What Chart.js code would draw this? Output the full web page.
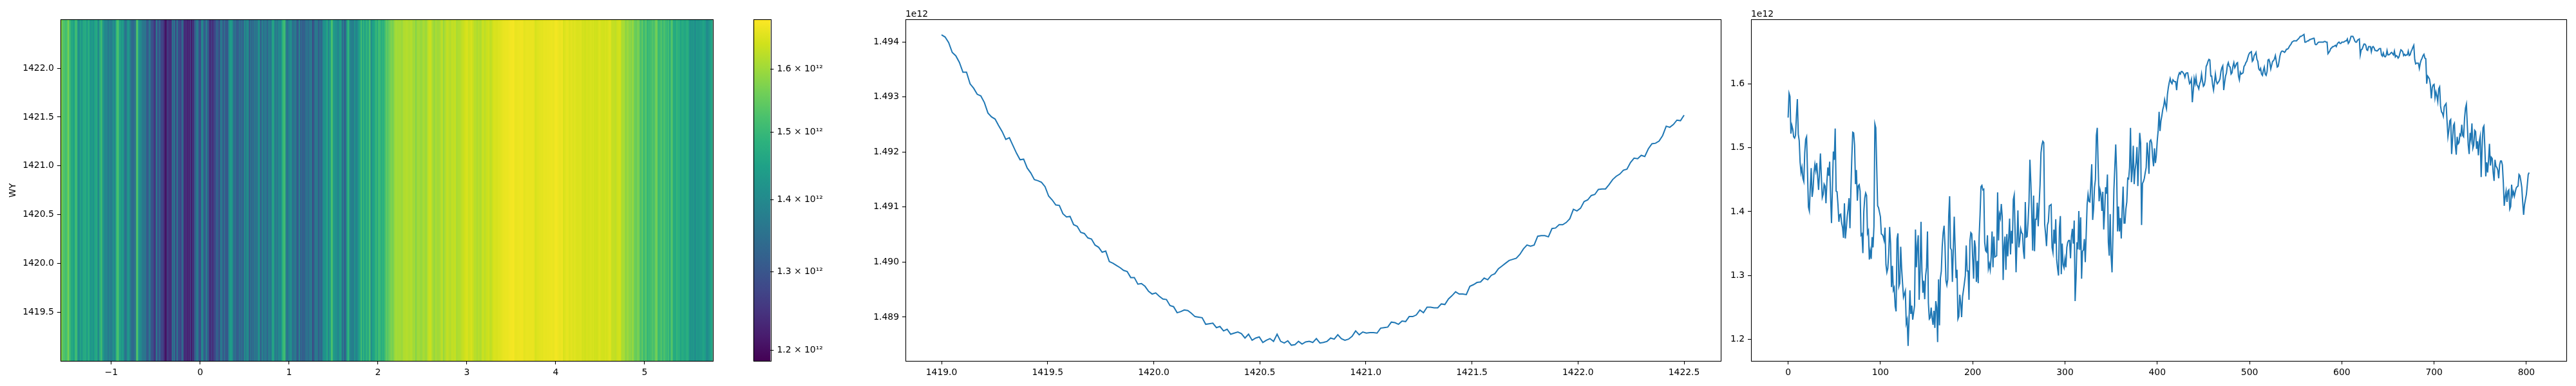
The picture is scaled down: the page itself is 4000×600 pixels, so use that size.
<!DOCTYPE html>
<html>
<head>
<meta charset="utf-8">
<title>WY profile</title>
<script src="https://cdn.jsdelivr.net/npm/chart.js@4/dist/chart.umd.min.js"></script>
<style>
  html, body { margin: 0; background: #fff; }
  #page { position: relative; width: 4000px; height: 600px; overflow: hidden; }
  canvas { position: absolute; top: 0; }
</style>
</head>
<body>
<div id="page">
  <canvas id="heatmap" style="left:0" width="1130" height="600"></canvas>
  <canvas id="colorbar" style="left:1150px" width="180" height="600"></canvas>
  <canvas id="ridge" style="left:1330px" width="1350" height="600"></canvas>
  <canvas id="profile" style="left:2680px" width="1320" height="600"></canvas>
</div>
<script>
// Values are in units of 1e12
const profile = [
  1.547,1.585,1.580,1.522,1.535,1.529,1.517,1.515,1.519,1.550,
  1.576,1.521,1.511,1.477,1.461,1.469,1.452,1.447,1.492,1.513,
  1.517,1.461,1.407,1.401,1.438,1.468,1.423,1.434,1.461,1.474,
  1.464,1.476,1.454,1.434,1.461,1.491,1.454,1.422,1.427,1.443,
  1.440,1.413,1.446,1.469,1.456,1.478,1.423,1.382,1.438,1.494,
  1.481,1.530,1.432,1.431,1.411,1.384,1.395,1.396,1.382,1.375,
  1.359,1.413,1.358,1.373,1.392,1.404,1.421,1.374,1.434,1.484,
  1.524,1.523,1.504,1.443,1.465,1.417,1.440,1.442,1.432,1.363,
  1.365,1.335,1.400,1.421,1.429,1.425,1.366,1.370,1.325,1.338,
  1.326,1.360,1.344,1.377,1.537,1.531,1.469,1.409,1.406,1.399,
  1.392,1.365,1.364,1.361,1.355,1.375,1.317,1.305,1.311,1.334,
  1.376,1.350,1.282,1.315,1.277,1.281,1.252,1.244,1.357,1.366,
  1.283,1.288,1.345,1.311,1.288,1.266,1.271,1.276,1.225,1.231,
  1.190,1.230,1.277,1.240,1.253,1.231,1.242,1.253,1.372,1.313,
  1.346,1.363,1.262,1.307,1.384,1.307,1.273,1.292,1.263,1.300,
  1.313,1.369,1.257,1.232,1.234,1.250,1.234,1.223,1.245,1.218,
  1.260,1.250,1.196,1.294,1.222,1.296,1.307,1.346,1.367,1.378,
  1.346,1.292,1.285,1.294,1.392,1.424,1.343,1.340,1.290,1.342,
  1.392,1.342,1.296,1.309,1.232,1.236,1.270,1.257,1.235,1.267,
  1.277,1.288,1.300,1.347,1.307,1.307,1.262,1.354,1.367,1.365,
  1.327,1.295,1.355,1.344,1.290,1.323,1.288,1.361,1.396,1.439,
  1.441,1.434,1.435,1.352,1.339,1.337,1.363,1.311,1.318,1.309,
  1.330,1.369,1.313,1.361,1.329,1.330,1.331,1.430,1.355,1.396,
  1.390,1.412,1.392,1.293,1.346,1.361,1.309,1.365,1.330,1.357,
  1.389,1.333,1.370,1.350,1.419,1.426,1.365,1.305,1.354,1.402,
  1.344,1.355,1.373,1.367,1.365,1.338,1.326,1.415,1.360,1.361,
  1.384,1.415,1.481,1.446,1.396,1.339,1.425,1.338,1.388,1.388,
  1.414,1.377,1.411,1.442,1.492,1.504,1.510,1.508,1.380,1.365,
  1.346,1.379,1.384,1.409,1.410,1.411,1.344,1.336,1.372,1.350,
  1.388,1.325,1.311,1.300,1.375,1.393,1.302,1.350,1.317,1.312,
  1.326,1.313,1.344,1.352,1.355,1.355,1.327,1.361,1.373,1.350,
  1.386,1.260,1.296,1.352,1.341,1.401,1.340,1.391,1.295,1.338,
  1.340,1.357,1.321,1.365,1.411,1.427,1.416,1.415,1.444,1.474,
  1.387,1.404,1.438,1.450,1.519,1.531,1.469,1.416,1.434,1.427,
  1.401,1.431,1.372,1.400,1.438,1.428,1.458,1.352,1.331,1.396,
  1.330,1.305,1.365,1.434,1.469,1.505,1.461,1.369,1.408,1.369,
  1.390,1.358,1.404,1.439,1.382,1.382,1.404,1.415,1.452,1.451,
  1.469,1.531,1.446,1.465,1.503,1.443,1.465,1.477,1.501,1.440,
  1.484,1.523,1.507,1.379,1.444,1.447,1.452,1.461,1.469,1.508,
  1.490,1.459,1.510,1.512,1.507,1.484,1.471,1.499,1.476,1.488,
  1.511,1.527,1.556,1.526,1.542,1.550,1.560,1.565,1.575,1.567,
  1.561,1.583,1.594,1.602,1.608,1.602,1.600,1.606,1.604,1.603,
  1.603,1.590,1.606,1.613,1.617,1.615,1.619,1.619,1.617,1.615,
  1.610,1.616,1.617,1.617,1.608,1.600,1.602,1.607,1.571,1.588,
  1.608,1.600,1.610,1.598,1.596,1.592,1.600,1.604,1.615,1.604,
  1.596,1.598,1.606,1.627,1.630,1.635,1.638,1.637,1.612,1.612,
  1.598,1.590,1.602,1.615,1.604,1.600,1.602,1.604,1.608,1.619,
  1.625,1.628,1.590,1.602,1.612,1.617,1.629,1.633,1.627,1.626,
  1.615,1.617,1.627,1.633,1.625,1.628,1.632,1.633,1.612,1.606,
  1.618,1.615,1.616,1.617,1.627,1.629,1.633,1.635,1.640,1.645,
  1.648,1.649,1.650,1.635,1.637,1.644,1.646,1.649,1.638,1.635,
  1.623,1.621,1.624,1.615,1.613,1.621,1.626,1.615,1.613,1.619,
  1.637,1.638,1.633,1.623,1.629,1.635,1.636,1.639,1.644,1.635,
  1.626,1.627,1.635,1.644,1.649,1.651,1.651,1.650,1.649,1.651,
  1.654,1.654,1.655,1.658,1.660,1.662,1.665,1.666,1.667,1.667,
  1.667,1.667,1.669,1.670,1.672,1.674,1.674,1.675,1.676,1.677,
  1.665,1.665,1.666,1.667,1.667,1.669,1.669,1.670,1.670,1.671,
  1.671,1.662,1.661,1.662,1.664,1.665,1.665,1.665,1.665,1.665,
  1.665,1.666,1.666,1.665,1.665,1.647,1.649,1.651,1.655,1.656,
  1.658,1.658,1.659,1.660,1.658,1.662,1.664,1.665,1.663,1.663,
  1.665,1.665,1.665,1.666,1.667,1.667,1.670,1.663,1.665,1.669,
  1.674,1.674,1.674,1.671,1.667,1.665,1.665,1.668,1.669,1.670,
  1.645,1.653,1.654,1.658,1.662,1.662,1.660,1.653,1.652,1.658,
  1.658,1.658,1.650,1.657,1.658,1.656,1.652,1.652,1.651,1.652,
  1.654,1.655,1.655,1.645,1.643,1.648,1.643,1.642,1.644,1.652,
  1.645,1.645,1.646,1.648,1.649,1.647,1.645,1.651,1.642,1.644,
  1.643,1.640,1.642,1.648,1.653,1.652,1.650,1.644,1.646,1.644,
  1.645,1.645,1.651,1.644,1.645,1.650,1.653,1.657,1.660,1.638,
  1.631,1.632,1.632,1.632,1.624,1.632,1.637,1.640,1.644,1.646,
  1.640,1.639,1.600,1.612,1.610,1.607,1.598,1.577,1.594,1.598,
  1.599,1.578,1.587,1.581,1.572,1.592,1.595,1.565,1.556,1.554,
  1.549,1.564,1.567,1.569,1.542,1.517,1.527,1.542,1.544,1.490,
  1.513,1.535,1.538,1.504,1.489,1.517,1.506,1.508,1.521,1.519,
  1.536,1.519,1.517,1.546,1.562,1.568,1.535,1.504,1.490,1.523,
  1.513,1.538,1.499,1.504,1.527,1.525,1.498,1.510,1.488,1.510,
  1.518,1.454,1.500,1.531,1.534,1.500,1.455,1.477,1.461,1.481,
  1.506,1.472,1.485,1.483,1.461,1.448,1.481,1.471,1.469,1.465,
  1.452,1.473,1.479,1.479,1.473,1.446,1.409,1.423,1.432,1.415,
  1.432,1.434,1.404,1.408,1.442,1.425,1.431,1.424,1.431,1.437,
  1.439,1.440,1.458,1.456,1.448,1.438,1.415,1.395,1.411,1.419,
  1.427,1.442,1.458,1.461
];

const ridge = [
  1.49413,1.49409,1.49399,1.49381,1.49375,1.49363,1.49345,1.49345,1.49324,1.49316,
  1.49305,1.49302,1.49290,1.49271,1.49264,1.49260,1.49248,1.49237,1.49223,1.49226,
  1.49212,1.49198,1.49186,1.49187,1.49171,1.49162,1.49150,1.49148,1.49145,1.49137,
  1.49120,1.49113,1.49104,1.49103,1.49088,1.49082,1.49083,1.49068,1.49065,1.49054,
  1.49052,1.49044,1.49042,1.49031,1.49027,1.49018,1.49020,1.49001,1.48998,1.48994,
  1.48990,1.48985,1.48983,1.48972,1.48972,1.48960,1.48961,1.48956,1.48947,1.48942,
  1.48944,1.48938,1.48933,1.48932,1.48921,1.48919,1.48908,1.48910,1.48913,1.48912,
  1.48907,1.48901,1.48900,1.48899,1.48887,1.48888,1.48889,1.48881,1.48883,1.48875,
  1.48878,1.48869,1.48871,1.48873,1.48870,1.48862,1.48869,1.48858,1.48862,1.48864,
  1.48854,1.48858,1.48861,1.48856,1.48869,1.48856,1.48853,1.48857,1.48849,1.48850,
  1.48856,1.48851,1.48855,1.48856,1.48854,1.48861,1.48853,1.48854,1.48856,1.48862,
  1.48860,1.48868,1.48861,1.48858,1.48860,1.48865,1.48875,1.48868,1.48873,1.48871,
  1.48872,1.48872,1.48871,1.48880,1.48881,1.48882,1.48891,1.48890,1.48887,1.48893,
  1.48892,1.48901,1.48901,1.48904,1.48913,1.48908,1.48918,1.48918,1.48917,1.48917,
  1.48924,1.48923,1.48933,1.48939,1.48946,1.48942,1.48942,1.48941,1.48956,1.48959,
  1.48963,1.48964,1.48971,1.48968,1.48976,1.48979,1.48988,1.48993,1.48998,1.49003,
  1.49005,1.49007,1.49014,1.49024,1.49031,1.49029,1.49031,1.49047,1.49048,1.49048,
  1.49046,1.49061,1.49062,1.49068,1.49068,1.49072,1.49079,1.49096,1.49093,1.49098,
  1.49110,1.49113,1.49121,1.49123,1.49132,1.49133,1.49133,1.49141,1.49150,1.49156,
  1.49160,1.49167,1.49169,1.49181,1.49189,1.49188,1.49194,1.49192,1.49206,1.49215,
  1.49216,1.49220,1.49230,1.49247,1.49245,1.49250,1.49258,1.49257,1.49267
];

const heatXTicks = [-1, 0, 1, 2, 3, 4, 5];
const heatYTicks = [1419.5, 1420, 1420.5, 1421, 1421.5, 1422];
const cbarTicks = [1.2, 1.3, 1.4, 1.5, 1.6];
const ridgeXTicks = [1419, 1419.5, 1420, 1420.5, 1421, 1421.5, 1422, 1422.5];
const ridgeYTicks = [1.489, 1.49, 1.491, 1.492, 1.493, 1.494];
const profileXTicks = [0, 100, 200, 300, 400, 500, 600, 700, 800];
const profileYTicks = [1.2, 1.3, 1.4, 1.5, 1.6];

const viridis = ["#440154", "#481B6D", "#46337E", "#3F4889", "#365C8D", "#2E6E8E", "#277F8E", "#21908C",
  "#1FA187", "#2DB27D", "#4AC16D", "#71CF57", "#A0DA39", "#D0E11C", "#FDE725"];

const heatXMin = -1.573, heatXMax = 5.766;
const heatYMin = 1419, heatYMax = 1422.5;
const cbarMin = 1.1865, cbarMax = 1.6835;

Chart.defaults.font.family = '"DejaVu Sans"';
Chart.defaults.font.size = 13.9;
Chart.defaults.color = "#000";
Chart.defaults.animation = false;
Chart.defaults.responsive = false;
Chart.defaults.plugins.legend.display = false;
Chart.defaults.plugins.tooltip.enabled = false;

function hexToRgb(hex) {
  return [1, 3, 5].map((i) => parseInt(hex.slice(i, i + 2), 16));
}

// log norm, same as the colorbar
function colorFor(v) {
  const t = Math.log(v / cbarMin) / Math.log(cbarMax / cbarMin);
  const pos = Math.min(Math.max(t, 0), 1) * (viridis.length - 1);
  const i = Math.min(Math.floor(pos), viridis.length - 2);
  const a = hexToRgb(viridis[i]);
  const b = hexToRgb(viridis[i + 1]);
  const c = a.map((x, k) => Math.round(x + (b[k] - x) * (pos - i)));
  return `rgb(${c[0]}, ${c[1]}, ${c[2]})`;
}

// matplotlib style box round the plot
const frame = {
  id: "frame",
  afterDatasetsDraw(chart) {
    const { left, top, width, height } = chart.chartArea;
    const ctx = chart.ctx;
    ctx.save();
    ctx.strokeStyle = "#000";
    ctx.lineWidth = 1.1;
    ctx.strokeRect(Math.round(left) + 0.5, Math.round(top) + 0.5, Math.round(width), Math.round(height));
    ctx.restore();
  },
};

// the "1e12" above the y axis
const offsetText = {
  id: "offsetText",
  afterDraw(chart) {
    const ctx = chart.ctx;
    ctx.save();
    ctx.fillStyle = "#000";
    ctx.font = '13.9px "DejaVu Sans"';
    ctx.textAlign = "left";
    ctx.textBaseline = "alphabetic";
    ctx.fillText("1e12", chart.chartArea.left, 26);
    ctx.restore();
  },
};

function axis(pos, size, min, max, tickValues, format, extra) {
  return Object.assign({
    type: "linear",
    position: pos,
    min: min,
    max: max,
    bounds: "data",
    offset: false,
    border: { display: false },
    grid: { drawOnChartArea: false, drawTicks: true, tickLength: 5, tickColor: "#000", tickWidth: 1.1, offset: false },
    ticks: { autoSkip: false, maxRotation: 0, padding: 5, callback: format },
    afterBuildTicks: (scale) => {
      scale.ticks = tickValues.map((value) => ({ value }));
    },
    afterFit: (scale) => {
      if (pos === "bottom") scale.height = size;
      else scale.width = size;
    },
  }, extra);
}

const minus = (s) => s.replace("-", "\u2212");

// Heatmap, one column per profile value
const colWidth = (heatXMax - heatXMin) / profile.length;
new Chart(document.getElementById("heatmap"), {
  type: "bar",
  data: {
    datasets: [
      {
        data: profile.map((_, i) => ({ x: heatXMin + (i + 0.5) * colWidth, y: [heatYMin, heatYMax] })),
        backgroundColor: profile.map(colorFor),
        borderWidth: 0,
        barThickness: 2,
      },
    ],
  },
  options: {
    layout: { padding: { top: 30.2, right: 23.3 } },
    scales: {
      x: axis("bottom", 38.6, heatXMin, heatXMax, heatXTicks, (v) => minus(String(v))),
      y: axis("left", 93.75, heatYMin, heatYMax, heatYTicks, (v) => v.toFixed(1), {
        title: { display: true, text: "WY", padding: { top: 12, bottom: 0 } },
      }),
    },
  },
  plugins: [frame],
});

// Colorbar
new Chart(document.getElementById("colorbar"), {
  type: "bar",
  data: {
    labels: [""],
    datasets: [
      {
        data: [[cbarMin, cbarMax]],
        borderWidth: 0,
        categoryPercentage: 1,
        barPercentage: 1,
        backgroundColor: (context) => {
          const area = context.chart.chartArea;
          if (!area) return viridis[0];
          const g = context.chart.ctx.createLinearGradient(0, area.bottom, 0, area.top);
          viridis.forEach((c, i) => g.addColorStop(i / (viridis.length - 1), c));
          return g;
        },
      },
    ],
  },
  options: {
    layout: { padding: { top: 30.2, bottom: 38.6, left: 19.6 } },
    scales: {
      x: { display: false },
      y: axis("right", 133.6, cbarMin, cbarMax, cbarTicks, (v) => `${v.toFixed(1)} \u00d7 10\u00b9\u00b2`, { type: "logarithmic" }),
    },
  },
  plugins: [frame],
});

// Cut along WY
new Chart(document.getElementById("ridge"), {
  type: "line",
  data: {
    datasets: [
      {
        data: ridge.map((v, i) => ({ x: 1419 + (i * 3.5) / (ridge.length - 1), y: v })),
        borderColor: "#1f77b4",
        borderWidth: 2,
        pointRadius: 0,
        tension: 0,
      },
    ],
  },
  options: {
    layout: { padding: { top: 30.2, right: 8 } },
    scales: {
      x: axis("bottom", 38.6, 1418.83, 1422.673, ridgeXTicks, (v) => v.toFixed(1)),
      y: axis("left", 76, 1.4882, 1.49441, ridgeYTicks, (v) => v.toFixed(3)),
    },
  },
  plugins: [frame, offsetText],
});

// Profile along the other axis
new Chart(document.getElementById("profile"), {
  type: "line",
  data: {
    datasets: [
      {
        data: profile.map((v, i) => ({ x: i, y: v })),
        borderColor: "#1f77b4",
        borderWidth: 2,
        pointRadius: 0,
        tension: 0,
      },
    ],
  },
  options: {
    layout: { padding: { top: 30.2, right: 15 } },
    scales: {
      x: axis("bottom", 38.6, -40.2, 843.3, profileXTicks, (v) => String(v)),
      y: axis("left", 39, 1.1661, 1.7005, profileYTicks, (v) => v.toFixed(1)),
    },
  },
  plugins: [frame, offsetText],
});
</script>
</body>
</html>
